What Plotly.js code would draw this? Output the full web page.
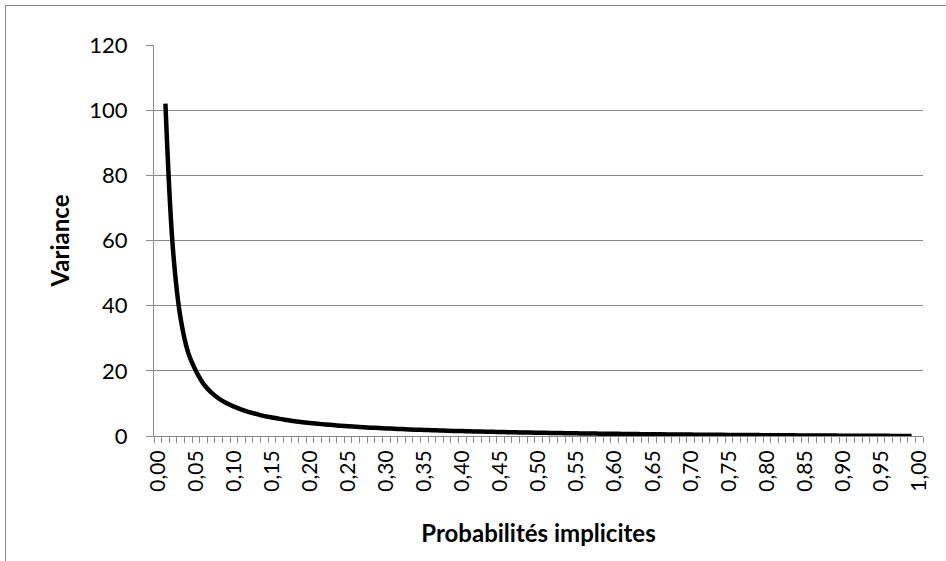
<!DOCTYPE html>
<html>
<head>
<meta charset="utf-8">
<script src="https://cdn.plot.ly/plotly-3.0.1.min.js"></script>
<style>
  html, body { margin: 0; padding: 0; background: #fff; overflow: hidden; }
  #chart { position: absolute; left: 0; top: 0; width: 946px; height: 561px; }
  #frame { position: absolute; left: 5px; top: 5px; width: 2000px; height: 2000px;
           border: 1px solid #8a8a8a; pointer-events: none; z-index: 5; }
</style>
</head>
<body>
<div id="chart"></div>
<div id="frame"></div>
<script>
// Implied probabilities (categories of the x axis), 0,01 ... 0,99
const probabilities = [
  0.01,0.02,0.03,0.04,0.05,0.06,0.07,0.08,0.09,0.10,
  0.11,0.12,0.13,0.14,0.15,0.16,0.17,0.18,0.19,0.20,
  0.21,0.22,0.23,0.24,0.25,0.26,0.27,0.28,0.29,0.30,
  0.31,0.32,0.33,0.34,0.35,0.36,0.37,0.38,0.39,0.40,
  0.41,0.42,0.43,0.44,0.45,0.46,0.47,0.48,0.49,0.50,
  0.51,0.52,0.53,0.54,0.55,0.56,0.57,0.58,0.59,0.60,
  0.61,0.62,0.63,0.64,0.65,0.66,0.67,0.68,0.69,0.70,
  0.71,0.72,0.73,0.74,0.75,0.76,0.77,0.78,0.79,0.80,
  0.81,0.82,0.83,0.84,0.85,0.86,0.87,0.88,0.89,0.90,
  0.91,0.92,0.93,0.94,0.95,0.96,0.97,0.98,0.99
];
// Variance
const variance = [
  102,57,36,25.5,20,16,13.4,11.5,10.1,9.0,
  8.1,7.3,6.7,6.1,5.7,5.25,4.9,4.55,4.25,4.0,
  3.75,3.55,3.35,3.17,3.0,2.85,2.7,2.57,2.45,2.33,
  2.23,2.13,2.03,1.94,1.86,1.78,1.7,1.63,1.56,1.5,
  1.44,1.38,1.33,1.27,1.22,1.17,1.13,1.08,1.04,1.0,
  0.96,0.92,0.89,0.85,0.82,0.79,0.75,0.72,0.69,0.67,
  0.64,0.61,0.59,0.56,0.54,0.52,0.49,0.47,0.45,0.43,
  0.41,0.39,0.37,0.35,0.33,0.32,0.30,0.28,0.27,0.25,
  0.23,0.22,0.20,0.19,0.18,0.16,0.15,0.14,0.12,0.11,
  0.10,0.09,0.08,0.06,0.05,0.04,0.03,0.02,0.01
];
// X tick labels
const xTickVals = [0,0.05,0.10,0.15,0.20,0.25,0.30,0.35,0.40,0.45,0.50,0.55,0.60,0.65,0.70,0.75,0.80,0.85,0.90,0.95,1.00];
const xTickText = ["0,00","0,05","0,10","0,15","0,20","0,25","0,30","0,35","0,40","0,45","0,50","0,55","0,60","0,65","0,70","0,75","0,80","0,85","0,90","0,95","1,00"];
const yTickVals = [0,20,40,60,80,100,120];

const gray = '#8a8a8a';
const fontFam = 'Lato, "Open Sans", sans-serif';

const trace = {
  type: 'scatter',
  mode: 'lines',
  x: probabilities,
  y: variance,
  line: { color: '#000000', width: 4.5, shape: 'spline', smoothing: 1 },
  hoverinfo: 'x+y'
};

const layout = {
  width: 946, height: 561,
  margin: { l: 154, r: 23, t: 45, b: 125 },
  paper_bgcolor: '#ffffff',
  plot_bgcolor: '#ffffff',
  showlegend: false,
  font: { family: fontFam, color: '#000000', size: 21 },
  xaxis: {
    type: 'linear',
    range: [-0.005, 1.005],
    tickmode: 'array',
    tickvals: xTickVals,
    ticktext: xTickText,
    tickangle: -90,
    ticks: '',
    ticklabelstandoff: 5,
    tickfont: { family: fontFam, size: 21, color: '#000' },
    minor: { ticks: 'outside', ticklen: 6, tickwidth: 1, tickcolor: gray, tick0: -0.005, dtick: 0.01, showgrid: false },
    showgrid: false,
    zeroline: false,
    showline: true,
    linecolor: gray,
    linewidth: 1,
    title: { text: 'Probabilités implicites', font: { family: fontFam, size: 24, color: '#000', weight: 'bold' }, standoff: 34 }
  },
  yaxis: {
    range: [0, 120],
    tickmode: 'array',
    tickvals: yTickVals,
    ticks: 'outside',
    ticklen: 7,
    tickwidth: 1,
    tickcolor: gray,
    ticklabelstandoff: 14,
    tickfont: { family: fontFam, size: 22, color: '#000' },
    showgrid: true,
    gridcolor: gray,
    gridwidth: 1,
    zeroline: false,
    showline: true,
    linecolor: gray,
    linewidth: 1,
    title: { text: 'Variance', font: { family: fontFam, size: 24, color: '#000', weight: 'bold' }, standoff: 12 }
  }
};

Plotly.newPlot('chart', [trace], layout, { displayModeBar: false, staticPlot: true });
</script>
</body>
</html>
